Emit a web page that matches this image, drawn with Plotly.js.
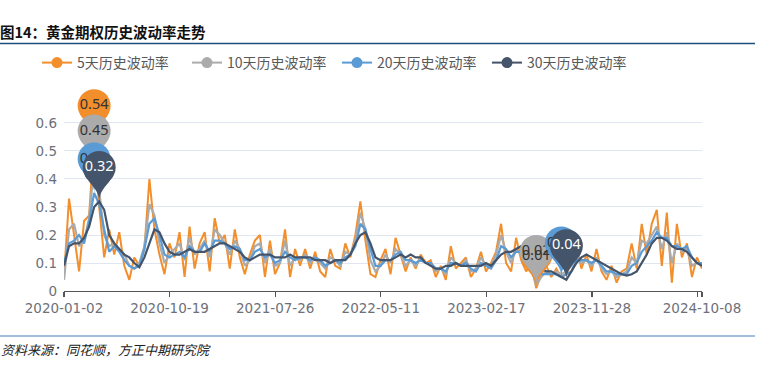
<!DOCTYPE html>
<html><head><meta charset="utf-8">
<script src="https://cdn.plot.ly/plotly-3.0.1.min.js"></script>
<style>html,body{margin:0;padding:0;background:#fff;} #chart{width:766px;height:366px;}</style>
</head><body><div id="chart"></div>
<script>
const seriesNames = ['5天历史波动率','10天历史波动率','20天历史波动率','30天历史波动率'];
const vol5 = [
0.05,0.33,0.20,0.07,0.25,0.27,0.54,0.30,0.12,0.22,
0.13,0.21,0.09,0.04,0.12,0.09,0.15,0.40,0.22,0.13,
0.06,0.17,0.12,0.21,0.05,0.23,0.08,0.17,0.21,0.07,
0.26,0.17,0.20,0.08,0.22,0.12,0.06,0.13,0.18,0.20,
0.05,0.18,0.06,0.10,0.22,0.05,0.15,0.09,0.15,0.08,
0.14,0.07,0.05,0.15,0.09,0.08,0.17,0.12,0.20,0.32,
0.18,0.06,0.05,0.11,0.15,0.06,0.19,0.13,0.07,0.12,
0.08,0.13,0.10,0.11,0.05,0.09,0.04,0.16,0.08,0.10,
0.12,0.05,0.08,0.14,0.07,0.10,0.14,0.24,0.10,0.07,
0.19,0.11,0.07,0.10,0.01,0.06,0.09,0.05,0.08,0.05,
0.06,0.10,0.16,0.08,0.13,0.07,0.15,0.07,0.04,0.09,
0.03,0.07,0.08,0.17,0.08,0.24,0.13,0.24,0.29,0.09,
0.28,0.03,0.24,0.12,0.17,0.05,0.12,0.08];
const vol10 = [
0.04,0.22,0.24,0.16,0.18,0.26,0.45,0.36,0.20,0.16,
0.17,0.15,0.13,0.09,0.08,0.10,0.16,0.31,0.27,0.17,
0.10,0.13,0.15,0.17,0.11,0.19,0.13,0.15,0.18,0.12,
0.22,0.20,0.17,0.13,0.18,0.15,0.09,0.11,0.16,0.17,
0.10,0.15,0.09,0.10,0.18,0.09,0.12,0.11,0.13,0.10,
0.12,0.10,0.08,0.12,0.11,0.09,0.14,0.13,0.18,0.28,
0.22,0.11,0.07,0.09,0.13,0.10,0.15,0.13,0.09,0.11,
0.09,0.12,0.10,0.10,0.07,0.08,0.06,0.12,0.10,0.09,
0.11,0.07,0.08,0.12,0.09,0.09,0.13,0.20,0.14,0.10,
0.15,0.13,0.09,0.08,0.02,0.05,0.07,0.06,0.07,0.06,
0.07,0.09,0.13,0.10,0.11,0.09,0.12,0.08,0.06,0.07,
0.05,0.06,0.07,0.12,0.10,0.18,0.17,0.20,0.23,0.15,
0.21,0.10,0.17,0.14,0.15,0.09,0.10,0.09];
const vol20 = [
0.10,0.17,0.18,0.20,0.17,0.25,0.35,0.31,0.22,0.14,
0.16,0.14,0.11,0.09,0.08,0.09,0.15,0.24,0.26,0.20,
0.13,0.12,0.13,0.14,0.12,0.16,0.14,0.14,0.17,0.14,
0.18,0.18,0.17,0.15,0.16,0.15,0.11,0.11,0.14,0.15,
0.12,0.13,0.10,0.11,0.14,0.12,0.11,0.12,0.12,0.11,
0.12,0.11,0.09,0.10,0.11,0.10,0.12,0.13,0.16,0.24,
0.22,0.15,0.09,0.09,0.11,0.11,0.13,0.14,0.11,0.11,
0.10,0.11,0.10,0.10,0.08,0.08,0.07,0.10,0.10,0.09,
0.10,0.08,0.07,0.10,0.09,0.08,0.11,0.16,0.15,0.12,
0.14,0.14,0.11,0.09,0.07,0.06,0.06,0.06,0.06,0.05,
0.06,0.07,0.11,0.11,0.11,0.10,0.11,0.09,0.07,0.07,
0.06,0.06,0.06,0.09,0.10,0.14,0.16,0.18,0.21,0.19,
0.19,0.16,0.16,0.15,0.16,0.12,0.10,0.10];
const vol30 = [
0.09,0.16,0.17,0.17,0.19,0.23,0.30,0.32,0.29,0.20,
0.17,0.15,0.13,0.12,0.10,0.085,0.12,0.17,0.22,0.21,
0.17,0.14,0.13,0.13,0.14,0.15,0.14,0.14,0.14,0.15,
0.16,0.17,0.17,0.16,0.15,0.14,0.12,0.11,0.12,0.13,
0.13,0.13,0.12,0.12,0.12,0.13,0.12,0.12,0.12,0.12,
0.11,0.11,0.11,0.10,0.11,0.11,0.11,0.13,0.17,0.20,
0.21,0.17,0.12,0.11,0.11,0.11,0.12,0.13,0.12,0.13,
0.12,0.12,0.10,0.09,0.08,0.08,0.09,0.09,0.10,0.09,
0.09,0.09,0.09,0.09,0.10,0.09,0.11,0.13,0.14,0.14,
0.15,0.16,0.16,0.14,0.11,0.08,0.07,0.07,0.06,0.05,
0.04,0.07,0.10,0.12,0.13,0.12,0.11,0.10,0.09,0.08,
0.07,0.06,0.055,0.06,0.07,0.10,0.13,0.17,0.19,0.19,
0.18,0.16,0.15,0.15,0.14,0.12,0.10,0.09];
const tickLabels = ['2020-01-02','2020-10-19','2021-07-26','2022-05-11','2023-02-17','2023-11-28','','2024-10-08'];
const tickIndex = [0, 21.02, 42.04, 63.06, 84.08, 105.1, 126.1, 127];
const yTicks = [0, 0.1, 0.2, 0.3, 0.4, 0.5, 0.6];
const yTickText = ['0','0.1','0.2','0.3','0.4','0.5','0.6'];

const colors = ['#F28E2B','#ABABAB','#5B9BD5','#44546A'];
const labelColors = ['#333333','#333333','#333333','#ffffff'];
const allSeries = [vol5, vol10, vol20, vol30];
const xIdx = vol5.map((_, i) => i);
const cjk = '"Noto Sans CJK SC", "Noto Sans", sans-serif';
const numFont = '"Noto Sans", sans-serif';

const Y_MAX = 0.7428, PLOT_H = 208, PLOT_W = 638;
const XU = (xIdx.length - 1) / PLOT_W;  // x units per pixel
const YU = Y_MAX / PLOT_H;             // y units per pixel
const R = 16.5, CY = 34;

function argIdx(arr, better) {
  let b = 0;
  for (let i = 1; i < arr.length; i++) if (better(arr[i], arr[b])) b = i;
  return b;
}
function bez(p0, p1, p2, p3, t) {
  const u = 1 - t;
  return u*u*u*p0 + 3*u*u*t*p1 + 3*u*t*t*p2 + t*t*t*p3;
}
// pin tail outline (pixel offsets from the tip, y up)
const tailPx = [];
for (let j = 0; j <= 10; j++) { const t = j / 10;
  tailPx.push([bez(-14.4, -9.6, 0, 0, t), bez(26, 17.35, 11.55, 0, t)]); }
for (let j = 1; j <= 10; j++) { const t = j / 10;
  tailPx.push([bez(0, 0, 9.6, 14.4, t), bez(0, 11.55, 17.35, 26, t)]); }
tailPx.push([0, CY]);

const traces = [];
allSeries.forEach((s, k) => {
  traces.push({x: xIdx, y: s, type: 'scatter', mode: 'lines', showlegend: false,
    line: {color: colors[k], width: k === 0 ? 2 : 2.2}, hoverinfo: 'skip'});
});

const shapes = [];
const annotations = [];
allSeries.forEach((s, k) => {
  const iMax = argIdx(s, (a, b) => a > b);
  const iMin = argIdx(s, (a, b) => a < b);
  const pts = [iMax, iMin];
  pts.forEach(i => traces.push({type: 'scatter', mode: 'none', fill: 'toself', fillcolor: colors[k],
    showlegend: false, hoverinfo: 'skip', cliponaxis: false,
    x: tailPx.map(p => i + p[0] * XU), y: tailPx.map(p => s[i] + p[1] * YU)}));
  const texts = pts.map(i => s[i].toFixed(2));
  if (k === 0) {
    annotations.push({x: iMin, y: s[iMin], xref: 'x', yref: 'y', yshift: CY, showarrow: false,
      text: texts[1], font: {family: numFont, size: 14.5, color: labelColors[k]}});
    texts[1] = '';
  }
  traces.push({x: pts, y: pts.map(i => s[i] + CY * YU), type: 'scatter', mode: 'markers+text',
    showlegend: false, hoverinfo: 'skip', cliponaxis: false,
    marker: {color: colors[k], size: 2 * R, line: {width: 0}},
    text: texts, textposition: 'middle center',
    textfont: {family: numFont, size: 14.5, color: labelColors[k]}});
});
allSeries.forEach((s, k) => {
  traces.push({x: [null], y: [null], type: 'scatter', mode: 'lines+markers', name: seriesNames[k],
    line: {color: colors[k], width: 2}, marker: {color: colors[k], size: 11}});
});

const pxToPaperX = px => (px - 64) / PLOT_W;
const pxToPaperY = py => (291 - py) / PLOT_H;
shapes.push({type: 'line', xref: 'paper', yref: 'paper', x0: pxToPaperX(0), x1: pxToPaperX(755),
  y0: pxToPaperY(43.5), y1: pxToPaperY(43.5), line: {color: '#1F4E79', width: 1.5}});
shapes.push({type: 'line', xref: 'paper', yref: 'paper', x0: pxToPaperX(0), x1: pxToPaperX(755),
  y0: pxToPaperY(336), y1: pxToPaperY(336), line: {color: '#4A7EBB', width: 1.2}});
annotations.push({xref: 'paper', yref: 'paper', x: pxToPaperX(-1), y: pxToPaperY(349), xanchor: 'left', yanchor: 'middle',
  showarrow: false, text: '<i>资料来源：同花顺，方正中期研究院</i>', font: {family: cjk, size: 13, color: '#222'}});

const layout = {
  width: 766, height: 366,
  margin: {l: 64, r: 64, t: 83, b: 75},
  paper_bgcolor: '#fff', plot_bgcolor: '#fff',
  title: {text: '图14：黄金期权历史波动率走势', x: 0, xref: 'container', xanchor: 'left',
    y: 1 - 33 / 366, yref: 'container', yanchor: 'middle',
    font: {family: cjk, size: 14.5, color: '#111', weight: 'bold'}},
  showlegend: true,
  legend: {orientation: 'h', x: pxToPaperX(37), xanchor: 'left', y: pxToPaperY(63), yanchor: 'middle',
    entrywidth: 105, entrywidthmode: 'pixels',
    font: {family: cjk, size: 14, color: '#595959'}, bgcolor: 'rgba(0,0,0,0)'},
  xaxis: {range: [0, xIdx.length - 1], tickmode: 'array', tickvals: tickIndex, ticktext: tickLabels,
    showgrid: false, zeroline: false, showline: true, linecolor: '#555', linewidth: 1.2,
    ticks: 'outside', ticklen: 5, tickcolor: '#555', tickwidth: 1.2,
    tickfont: {family: '"DejaVu Sans", sans-serif', size: 13.5, color: '#6E7079'}, fixedrange: true},
  yaxis: {range: [0, Y_MAX], tickmode: 'array', tickvals: yTicks, ticktext: yTickText,
    showgrid: true, gridcolor: '#E0E6F1', gridwidth: 1, zeroline: false, showline: false,
    ticklabelstandoff: 6,
    tickfont: {family: '"DejaVu Sans", sans-serif', size: 13.5, color: '#6E7079'}, fixedrange: true},
  shapes: shapes,
  annotations: annotations
};
Plotly.newPlot('chart', traces, layout, {displayModeBar: false, staticPlot: true});
</script></body></html>
